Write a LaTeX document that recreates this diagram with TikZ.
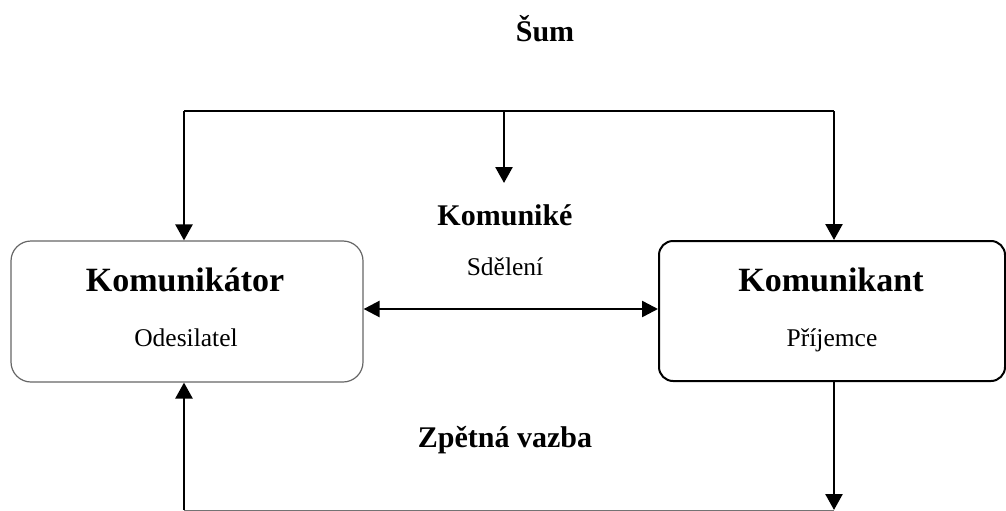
\documentclass[tikz,border=0pt]{standalone}
\usepackage{fontspec}
\setmainfont{Liberation Serif}
\usetikzlibrary{arrows.meta}
\begin{document}
\begin{tikzpicture}[x=1pt,y=-1pt,
  arr/.style={line width=2.5pt,-{Triangle[length=16pt,width=17pt]}},
  dblarr/.style={line width=2.5pt,{Triangle[length=16pt,width=16pt]}-{Triangle[length=16pt,width=16pt]}},
  title/.style={font=\fontsize{34}{40}\selectfont\bfseries, anchor=base, inner sep=0pt},
  label/.style={font=\fontsize{30}{36}\selectfont\bfseries, anchor=base, inner sep=0pt},
  sub/.style={font=\fontsize{25.5}{30}\selectfont, anchor=base, inner sep=0pt}]
\useasboundingbox (0,0) rectangle (1006,511);
% boxes
\node[draw=black!60, line width=1.2pt, rounded corners=20pt, minimum width=352pt, minimum height=141pt, inner sep=0pt] (sender) at (187,311.5) {};
\node[draw=black, line width=2pt, rounded corners=14pt, minimum width=346pt, minimum height=140pt, inner sep=0pt] (receiver) at (832,311) {};
% texts
\node[label] (noise) at (545,42) {Šum};
\node[label] (msg) at (505,225) {Komuniké};
\node[sub] (msgsub) at (505,275) {Sdělení};
\node[title] (sendt) at (185,291) {Komunikátor};
\node[sub] (sends) at (186,346) {Odesilatel};
\node[title] (recvt) at (831,291) {Komunikant};
\node[sub] (recvs) at (832,346) {Příjemce};
\node[label] (fb) at (505,447) {Zpětná vazba};
% coordinates
\coordinate (topL) at (184,111);
\coordinate (topM) at (504,111);
\coordinate (topR) at (834,111);
\coordinate (midtip) at (504,183);
\coordinate (msgy) at (0,309);
\coordinate (botL) at (184,510);
\coordinate (botR) at (834,510);
% noise connectors
\draw[line width=2pt] (topL) -- (topR);
\draw[arr] (topL) -- (topL |- sender.north);
\draw[arr] (topR) -- (topR |- receiver.north);
\draw[arr] (topM) -- (midtip);
% message
\draw[dblarr] (sender.east |- msgy) -- (receiver.west |- msgy);
% feedback
\draw[arr] (botR |- receiver.south) -- (botR);
\draw[line width=1pt, black!55] (botL) -- (botR);
\draw[arr] (botL) -- (botL |- sender.south);
\end{tikzpicture}
\end{document}
